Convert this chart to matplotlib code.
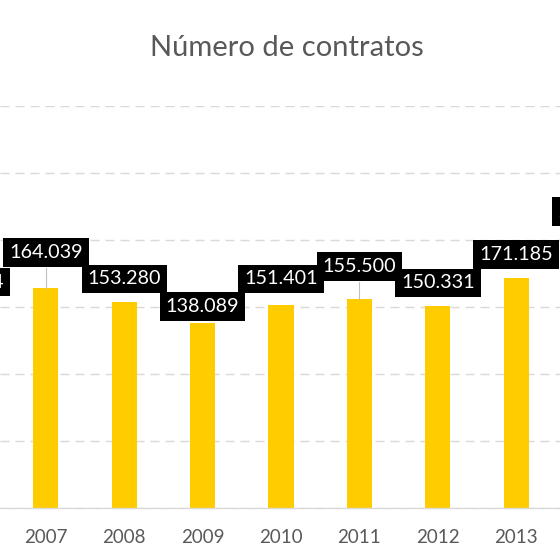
import matplotlib
matplotlib.use("Agg")
import matplotlib.pyplot as plt
from matplotlib.ticker import MultipleLocator

# dados do gráfico (o recorte mostra só parte de 2006 e 2014)
anos = [2006, 2007, 2008, 2009, 2010, 2011, 2012, 2013, 2014]
contratos = [149104, 164039, 153280, 138089, 151401, 155500, 150331, 171185, 204733]

# altura do centro de cada rótulo (arrastados à mão no Excel)
altura_rotulo = [168400, 190200, 170700, 149900, 170700, 179700, 167700, 189100, 220900]

plt.rcParams['font.family'] = ['Lato', 'DejaVu Sans']

cinza_texto = '#595959'
cinza_grade = '#d9d9d9'

fig = plt.figure(figsize=(5.6, 5.6), dpi=100)
ax = fig.add_axes([0, 52.3 / 560, 1, 402 / 560])

ax.bar(anos, contratos, width=0.32, color='#FFCC00', zorder=2)

ax.set_xticks(anos)
ax.set_xticklabels([str(a) for a in anos])
ax.set_xlim(2006.416, 2013.559)
ax.set_ylim(0, 300000)
ax.yaxis.set_major_locator(MultipleLocator(50000))
ax.grid(axis='y', color=cinza_grade, linestyle=(0, (6.5, 4.3)), linewidth=1.0, zorder=0)
ax.set_axisbelow(True)

for lado in ['top', 'left', 'right']:
    ax.spines[lado].set_visible(False)
ax.spines['bottom'].set_color(cinza_grade)
ax.spines['bottom'].set_linewidth(1.0)
ax.spines['bottom'].set_zorder(3)

ax.set_yticklabels([])
ax.tick_params(axis='y', length=0)
ax.tick_params(axis='x', length=0, pad=15, labelsize=13.5, labelcolor=cinza_texto)

# rótulos de dados em caixa preta, com linha de ligação quando afastados
meia_caixa = 11200
for ano, valor, y_rot in zip(anos, contratos, altura_rotulo):
    texto = f"{valor:,}".replace(",", ".")
    if y_rot - meia_caixa - valor > 10000:
        ax.plot([ano, ano], [valor, y_rot - meia_caixa], color='#bfbfbf',
                linewidth=0.8, zorder=3, clip_on=False)
    ax.annotate(texto, (ano, y_rot), ha='center', va='center', fontsize=14.2,
                color='white', zorder=5, annotation_clip=False,
                bbox=dict(boxstyle='square,pad=0.3', fc='black', ec='none'))

fig.text(286.5 / 560, 1 - 48 / 560, 'Número de contratos', ha='center', va='center',
         fontsize=21, color=cinza_texto)

fig.savefig('out.png', dpi=100)
